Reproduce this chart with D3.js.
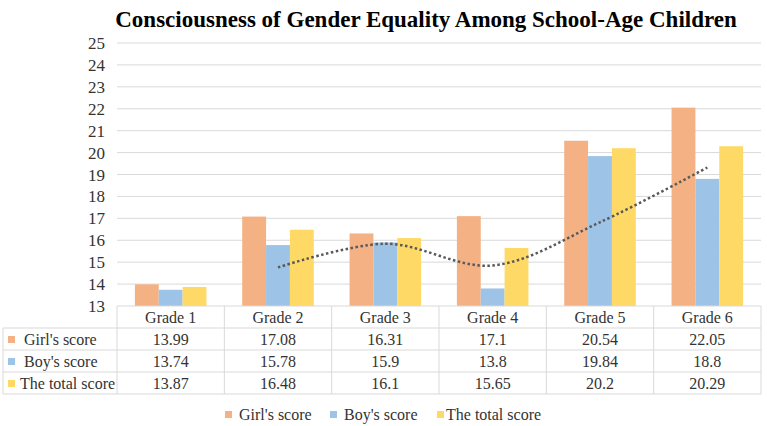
<!DOCTYPE html>
<html>
<head>
<meta charset="utf-8">
<script src="https://cdn.jsdelivr.net/npm/d3@7"></script>
<style>
  body { margin: 0; background: #fff; }
  svg { font-family: "Liberation Serif", "Times New Roman", serif; }
</style>
</head>
<body>
<svg id="chart" width="767" height="426"></svg>
<script>
// data
const grades = ["Grade 1", "Grade 2", "Grade 3", "Grade 4", "Grade 5", "Grade 6"];
const seriesNames = ["Girl's score", "Boy's score", "The total score"];
const girlScores = [13.99, 17.08, 16.31, 17.1, 20.54, 22.05];
const boyScores = [13.74, 15.78, 15.9, 13.8, 19.84, 18.8];
const totalScores = [13.87, 16.48, 16.1, 15.65, 20.2, 20.29];
const girlLabels = ["13.99", "17.08", "16.31", "17.1", "20.54", "22.05"];
const boyLabels = ["13.74", "15.78", "15.9", "13.8", "19.84", "18.8"];
const totalLabels = ["13.87", "16.48", "16.1", "15.65", "20.2", "20.29"];
// dotted trend line (moving average of boy's score)
const trendGrades = ["Grade 2", "Grade 3", "Grade 4", "Grade 5", "Grade 6"];
const trendValues = [14.76, 15.84, 14.85, 16.82, 19.32];
const yTicks = [13, 14, 15, 16, 17, 18, 19, 20, 21, 22, 23, 24, 25];

const colors = ["#F4B183", "#9DC3E6", "#FFD966"];
const values = [girlScores, boyScores, totalScores];
const labels = [girlLabels, boyLabels, totalLabels];

const svg = d3.select("#chart");
const plotLeft = 117, plotRight = 761, plotTop = 43, plotBottom = 306;
const rowH = 22;
const tableLeft = 3;

// title
svg.append("text")
    .attr("x", 426)
    .attr("y", 27)
    .attr("text-anchor", "middle")
    .style("font-size", "23px")
    .style("font-weight", "bold")
    .attr("fill", "#000")
    .text("Consciousness of Gender Equality Among School-Age Children");

const x = d3.scaleBand().domain(grades).range([plotLeft, plotRight]);
const xInner = d3.scaleBand().domain(seriesNames).range([0, x.bandwidth()]).paddingOuter(0.75).paddingInner(0);
const y = d3.scaleLinear().domain([13, 25]).range([plotBottom, plotTop]);

// gridlines
svg.append("g").selectAll("line")
    .data(yTicks.slice(1))
    .enter().append("line")
    .attr("x1", plotLeft).attr("x2", plotRight)
    .attr("y1", d => y(d)).attr("y2", d => y(d))
    .attr("stroke", "#d9d9d9")
    .attr("stroke-width", 1);

// y tick labels
svg.append("g").selectAll("text")
    .data(yTicks)
    .enter().append("text")
    .attr("x", 105)
    .attr("y", d => y(d) + 6)
    .attr("text-anchor", "end")
    .attr("fill", "#333")
    .style("font-size", "17px")
    .text(d => d);

// bars
seriesNames.forEach((name, i) => {
    svg.append("g").selectAll("rect")
        .data(grades)
        .enter().append("rect")
        .attr("x", (g) => x(g) + xInner(name))
        .attr("width", xInner.bandwidth())
        .attr("y", (g, j) => y(values[i][j]))
        .attr("height", (g, j) => plotBottom - y(values[i][j]))
        .attr("fill", colors[i]);
});

// trend line
const line = d3.line()
    .x((d, i) => x(trendGrades[i]) + x.bandwidth() / 2)
    .y(d => y(d))
    .curve(d3.curveCatmullRom.alpha(0.5));

svg.append("path")
    .datum(trendValues)
    .attr("d", line)
    .attr("fill", "none")
    .attr("stroke", "#595959")
    .attr("stroke-width", 2.5)
    .attr("stroke-dasharray", "2.5,2.5");

// data table
const table = svg.append("g");
const gridColor = "#d9d9d9";

// horizontal lines
table.append("line")
    .attr("x1", plotLeft).attr("x2", plotRight)
    .attr("y1", plotBottom).attr("y2", plotBottom)
    .attr("stroke", gridColor);
[1, 2, 3, 4].forEach(r => {
    table.append("line")
        .attr("x1", tableLeft).attr("x2", plotRight)
        .attr("y1", plotBottom + r * rowH).attr("y2", plotBottom + r * rowH)
        .attr("stroke", gridColor);
});
// vertical lines
table.append("line")
    .attr("x1", tableLeft).attr("x2", tableLeft)
    .attr("y1", plotBottom + rowH).attr("y2", plotBottom + 4 * rowH)
    .attr("stroke", gridColor);
grades.concat([null]).forEach((g) => {
    const xx = g ? x(g) : plotRight;
    table.append("line")
        .attr("x1", xx).attr("x2", xx)
        .attr("y1", plotBottom).attr("y2", plotBottom + 4 * rowH)
        .attr("stroke", gridColor);
});

// header
table.selectAll("text.head")
    .data(grades)
    .enter().append("text")
    .attr("class", "head")
    .attr("x", g => x(g) + x.bandwidth() / 2)
    .attr("y", plotBottom + 17)
    .attr("text-anchor", "middle")
    .attr("fill", "#333")
    .style("font-size", "16px")
    .text(g => g);

seriesNames.forEach((name, i) => {
    const rowY = plotBottom + (i + 1) * rowH;
    table.append("rect")
        .attr("x", 8).attr("y", rowY + 8)
        .attr("width", 7).attr("height", 7)
        .attr("fill", colors[i]);
    table.append("text")
        .attr("x", i === 2 ? 20 : 24)
        .attr("y", rowY + 17)
        .attr("fill", "#333")
        .style("font-size", "16px")
        .text(name);
    table.selectAll("text.v" + i)
        .data(grades)
        .enter().append("text")
        .attr("class", "v" + i)
        .attr("x", g => x(g) + x.bandwidth() / 2)
        .attr("y", rowY + 17)
        .attr("text-anchor", "middle")
        .attr("fill", "#333")
        .style("font-size", "16px")
        .text((g, j) => labels[i][j]);
});

// legend
const legendX = [225, 330, 437];
const legend = svg.append("g");
seriesNames.forEach((name, i) => {
    legend.append("rect")
        .attr("x", legendX[i]).attr("y", 411)
        .attr("width", 7).attr("height", 7)
        .attr("fill", colors[i]);
    legend.append("text")
        .attr("x", legendX[i] + (i === 2 ? 9 : 14))
        .attr("y", 420)
        .attr("fill", "#333")
        .style("font-size", "16px")
        .text(name);
});
</script>
</body>
</html>
